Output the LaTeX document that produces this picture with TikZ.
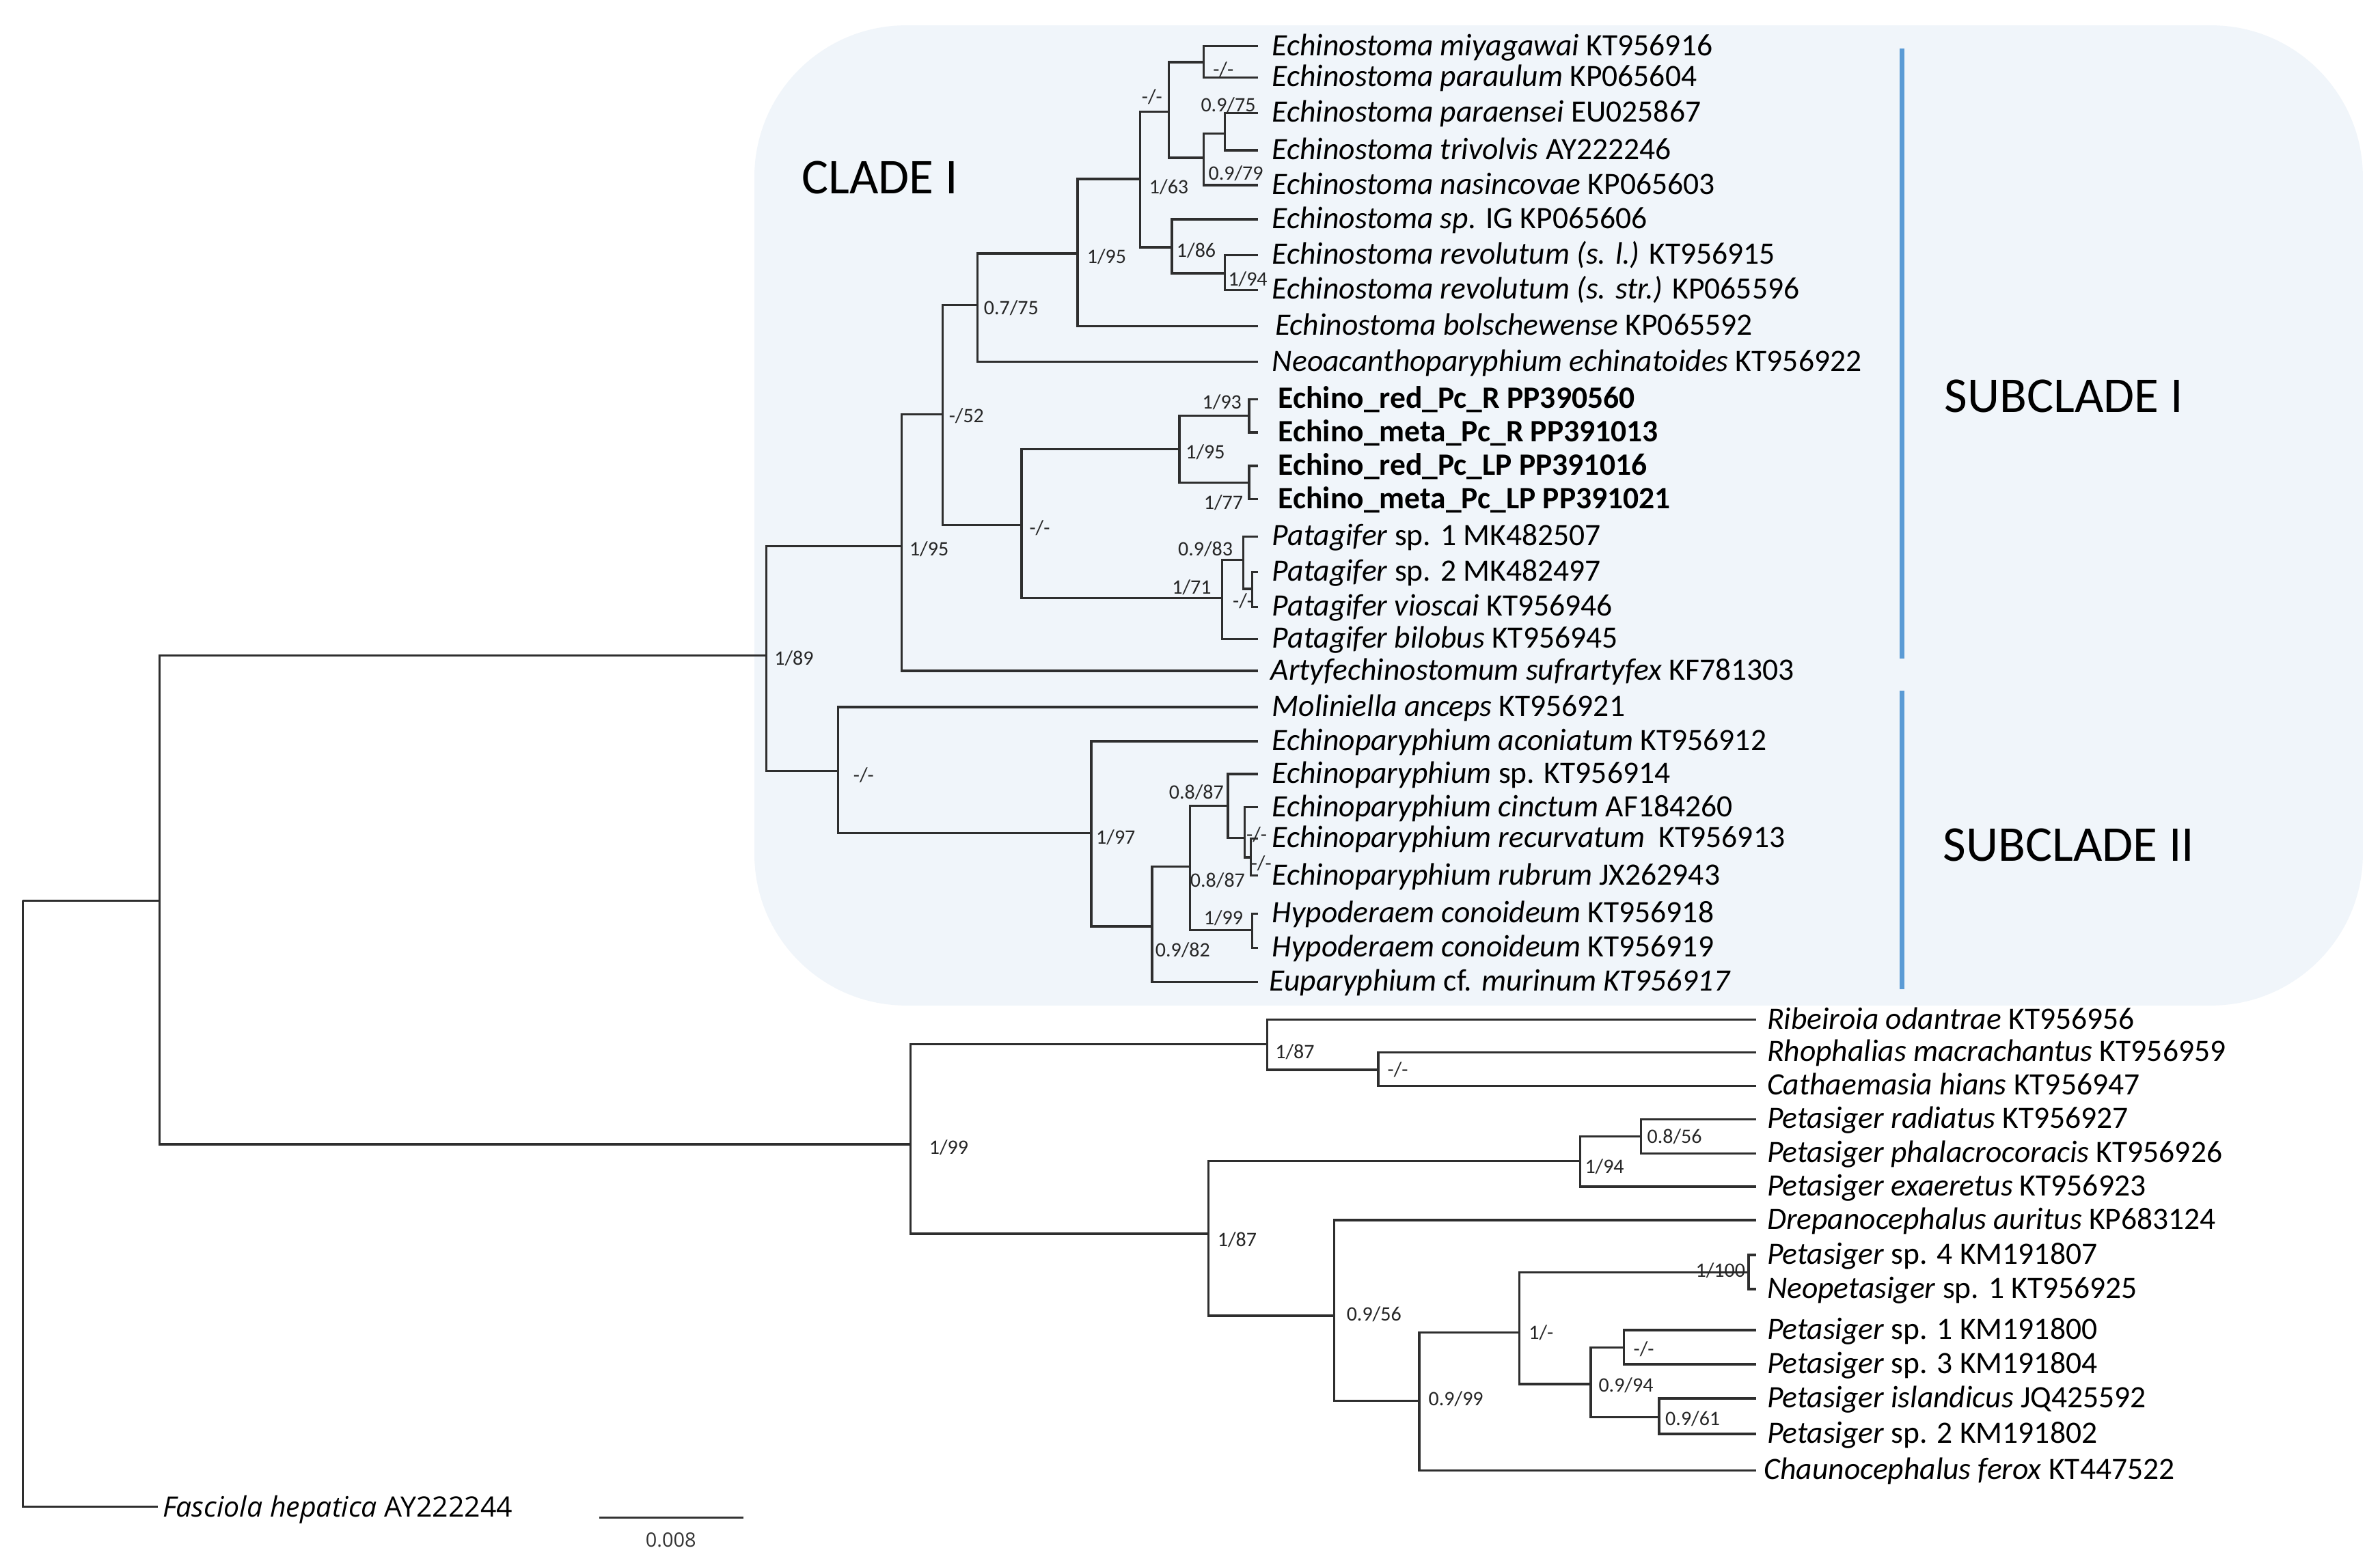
\documentclass[tikz,border=0pt]{standalone}
\usepackage{fontspec}
\setmainfont{Carlito}
\newfontfamily\osans{Open Sans}
\definecolor{subblue}{RGB}{91,155,213}
\definecolor{boxfill}{RGB}{240,245,250}
\newcommand\tipfont{\fontsize{20.5}{24}\selectfont}
\newcommand\supfont{\fontsize{13.5}{16}\selectfont}
\newcommand\bigfont{\fontsize{33}{38}\selectfont}
% name, x, y, label shift, text
\newcommand\tipx[5]{\coordinate (#1) at (#2,#3); \node[tiplab] (#1l) at ([xshift=#4pt]#1) {#5};}
\begin{document}
\begin{tikzpicture}[x=1pt,y=-1pt,
  br/.style={line width=1.5pt, draw=black!82},
  tiplab/.style={anchor=base west, inner sep=0pt, font=\tipfont, yshift=-6pt},
  supl/.style={anchor=west, inner sep=0pt, font=\supfont, text=black!85},
  cladetxt/.style={anchor=west, inner sep=0pt, font=\bigfont},
  subline/.style={line width=3.2pt, draw=subblue}]
\fill[white] (0,0) rectangle (1568,1028.6);
\useasboundingbox (0,0) rectangle (1568,1028.6);
% clade box
\fill[boxfill, rounded corners=100pt] (497,16.7) rectangle (1556.7,662.6);
% subclade bars
\coordinate (s1a) at (1253,32); \coordinate (s1b) at (1253,434);
\coordinate (s2a) at (1253,455); \coordinate (s2b) at (1253,652);
\draw[subline] (s1a) -- (s1b);
\draw[subline] (s2a) -- (s2b);
\node[cladetxt] (cl1) at (528,117) {CLADE I};
\node[cladetxt] (sc1) at (1281,261) {SUBCLADE I};
\node[cladetxt] (sc2) at (1280,557) {SUBCLADE II};

% ---------- tips: clade I ----------
\tipx{t1}{829}{30.5}{9}{\textit{Echinostoma miyagawai} KT956916}
\tipx{t2}{829}{51}{9}{\textit{Echinostoma paraulum} KP065604}
\tipx{t3}{829}{74.5}{9}{\textit{Echinostoma paraensei} EU025867}
\tipx{t4}{829}{99}{9}{\textit{Echinostoma trivolvis} AY222246}
\tipx{t5}{829}{122}{9}{\textit{Echinostoma nasincovae} KP065603}
\tipx{t6}{829}{144.5}{9}{\textit{Echinostoma sp.} IG KP065606}
\tipx{t7}{829}{168}{9}{\textit{Echinostoma revolutum (s. l.)} KT956915}
\tipx{t8}{829}{191}{9}{\textit{Echinostoma revolutum (s. str.)} KP065596}
\tipx{t9}{829}{215}{11}{\textit{Echinostoma bolschewense} KP065592}
\tipx{t10}{829}{238.5}{9}{\textit{Neoacanthoparyphium echinatoides} KT956922}
\tipx{t11}{829}{263}{13}{\textbf{Echino\_red\_Pc\_R PP390560}}
\tipx{t12}{829}{285}{13}{\textbf{Echino\_meta\_Pc\_R PP391013}}
\tipx{t13}{829}{307}{13}{\textbf{Echino\_red\_Pc\_LP PP391016}}
\tipx{t14}{829}{329}{13}{\textbf{Echino\_meta\_Pc\_LP PP391021}}
\tipx{t15}{829}{353.5}{9}{\textit{Patagifer} sp. 1 MK482507}
\tipx{t16}{829}{377}{9}{\textit{Patagifer} sp. 2 MK482497}
\tipx{t17}{829}{400}{9}{\textit{Patagifer vioscai} KT956946}
\tipx{t18}{829}{421}{9}{\textit{Patagifer bilobus} KT956945}
\tipx{t19}{829}{442}{8}{\textit{Artyfechinostomum sufrartyfex} KF781303}
\tipx{t20}{829}{466}{9}{\textit{Moliniella anceps} KT956921}
\tipx{t21}{829}{488.5}{9}{\textit{Echinoparyphium aconiatum} KT956912}
\tipx{t22}{829}{510}{9}{\textit{Echinoparyphium} sp. KT956914}
\tipx{t23}{829}{532}{9}{\textit{Echinoparyphium cinctum} AF184260}
\tipx{t24}{829}{552.5}{9}{\textit{Echinoparyphium recurvatum}\ \ KT956913}
\tipx{t25}{829}{577}{9}{\textit{Echinoparyphium rubrum} JX262943}
\tipx{t26}{829}{602}{9}{\textit{Hypoderaem conoideum} KT956918}
\tipx{t27}{829}{624.5}{9}{\textit{Hypoderaem conoideum} KT956919}
\tipx{t28}{829}{647}{7}{\textit{Euparyphium} cf. \textit{murinum KT956917}}
% ---------- tips: lower clade ----------
\tipx{b1}{1157}{672}{7}{\textit{Ribeiroia odantrae} KT956956}
\tipx{b2}{1157}{693.5}{7}{\textit{Rhophalias macrachantus} KT956959}
\tipx{b3}{1157}{715.5}{7}{\textit{Cathaemasia hians} KT956947}
\tipx{b4}{1157}{737.5}{7}{\textit{Petasiger radiatus} KT956927}
\tipx{b5}{1157}{760}{7}{\textit{Petasiger phalacrocoracis} KT956926}
\tipx{b6}{1157}{782}{7}{\textit{Petasiger exaeretus} KT956923}
\tipx{b7}{1157}{804}{7}{\textit{Drepanocephalus auritus} KP683124}
\tipx{b8}{1157}{827}{7}{\textit{Petasiger} sp. 4 KM191807}
\tipx{b9}{1157}{849.5}{7}{\textit{Neopetasiger} sp. 1 KT956925}
\tipx{b10}{1157}{876.5}{7}{\textit{Petasiger} sp. 1 KM191800}
\tipx{b11}{1157}{899}{7}{\textit{Petasiger} sp. 3 KM191804}
\tipx{b12}{1157}{921.5}{7}{\textit{Petasiger islandicus} JQ425592}
\tipx{b13}{1157}{945}{7}{\textit{Petasiger} sp. 2 KM191802}
\tipx{b14}{1157}{969}{5}{\textit{Chaunocephalus ferox} KT447522}
% outgroup
\coordinate (fas) at (104,993);
\node[anchor=base west, inner sep=0pt, font={\osans\fontsize{18.5}{22}\selectfont}, yshift=-6.5pt] (fasl) at ([xshift=3pt]fas) {\textit{Fasciola hepatica} AY222244};

% ---------- internal nodes ----------
\coordinate (R) at (15,593.5);
\coordinate (A) at (105,593.5);
\coordinate (C1) at (505,432);
\coordinate (C2) at (600,754);
\coordinate (Na) at (594,360);
\coordinate (N52) at (621,273);
\coordinate (N075) at (644,201);
\coordinate (N195b) at (710,167);
\coordinate (N163) at (751,118);
\coordinate (Nm2) at (770,73.5);
\coordinate (Nm3) at (793,41);
\coordinate (N0979) at (793,104);
\coordinate (N0975) at (807,88);
\coordinate (N186) at (772,163);
\coordinate (N194) at (807,180);
\coordinate (Nm1) at (673,346);
\coordinate (N195c) at (777,296);
\coordinate (N193) at (823,274);
\coordinate (N177) at (823,318);
\coordinate (N171) at (805,394);
\coordinate (N0983) at (819,369);
\coordinate (Nm4) at (825,388);
\coordinate (NM) at (552,508);
\coordinate (N197) at (719,549);
\coordinate (N0982) at (759,610.5);
\coordinate (N0887a) at (784,571);
\coordinate (N0887b) at (809,531);
\coordinate (Nm5) at (820,552);
\coordinate (Nm6) at (824,565);
\coordinate (N199) at (825,613);
\coordinate (N187a) at (835,688);
\coordinate (Nm7) at (908,705);
\coordinate (N187b) at (796,813);
\coordinate (N194b) at (1041,765);
\coordinate (N0856) at (1081,749);
\coordinate (N0956) at (879,867);
\coordinate (N0999) at (935,923);
\coordinate (N1m) at (1001,878);
\coordinate (N1100) at (1152,838.5);
\coordinate (N0994) at (1048,912);
\coordinate (Nm8) at (1070,888);
\coordinate (N0961) at (1093,934);

% ---------- branches ----------
\draw[br] (R) |- (A);  \draw[br] (R) |- (fas);
\draw[br] (A) |- (C1); \draw[br] (A) |- (C2);
\draw[br] (C1) |- (Na); \draw[br] (C1) |- (NM);
\draw[br] (Na) |- (N52); \draw[br] (Na) |- (t19);
\draw[br] (N52) |- (N075); \draw[br] (N52) |- (Nm1);
\draw[br] (N075) |- (N195b); \draw[br] (N075) |- (t10);
\draw[br] (N195b) |- (N163); \draw[br] (N195b) |- (t9);
\draw[br] (N163) |- (Nm2); \draw[br] (N163) |- (N186);
\draw[br] (Nm2) |- (Nm3); \draw[br] (Nm2) |- (N0979);
\draw[br] (Nm3) |- (t1); \draw[br] (Nm3) |- (t2);
\draw[br] (N0979) |- (N0975); \draw[br] (N0979) |- (t5);
\draw[br] (N0975) |- (t3); \draw[br] (N0975) |- (t4);
\draw[br] (N186) |- (t6); \draw[br] (N186) |- (N194);
\draw[br] (N194) |- (t7); \draw[br] (N194) |- (t8);
\draw[br] (Nm1) |- (N195c); \draw[br] (Nm1) |- (N171);
\draw[br] (N195c) |- (N193); \draw[br] (N195c) |- (N177);
\draw[br] (N193) |- (t11); \draw[br] (N193) |- (t12);
\draw[br] (N177) |- (t13); \draw[br] (N177) |- (t14);
\draw[br] (N171) |- (N0983); \draw[br] (N171) |- (t18);
\draw[br] (N0983) |- (t15); \draw[br] (N0983) |- (Nm4);
\draw[br] (Nm4) |- (t16); \draw[br] (Nm4) |- (t17);
\draw[br] (NM) |- (t20); \draw[br] (NM) |- (N197);
\draw[br] (N197) |- (t21); \draw[br] (N197) |- (N0982);
\draw[br] (N0982) |- (N0887a); \draw[br] (N0982) |- (t28);
\draw[br] (N0887a) |- (N0887b); \draw[br] (N0887a) |- (N199);
\draw[br] (N0887b) |- (t22); \draw[br] (N0887b) |- (Nm5);
\draw[br] (Nm5) |- (t23); \draw[br] (Nm5) |- (Nm6);
\draw[br] (Nm6) |- (t24); \draw[br] (Nm6) |- (t25);
\draw[br] (N199) |- (t26); \draw[br] (N199) |- (t27);
\draw[br] (C2) |- (N187a); \draw[br] (C2) |- (N187b);
\draw[br] (N187a) |- (b1); \draw[br] (N187a) |- (Nm7);
\draw[br] (Nm7) |- (b2); \draw[br] (Nm7) |- (b3);
\draw[br] (N187b) |- (N194b); \draw[br] (N187b) |- (N0956);
\draw[br] (N194b) |- (N0856); \draw[br] (N194b) |- (b6);
\draw[br] (N0856) |- (b4); \draw[br] (N0856) |- (b5);
\draw[br] (N0956) |- (b7); \draw[br] (N0956) |- (N0999);
\draw[br] (N0999) |- (N1m); \draw[br] (N0999) |- (b14);
\draw[br] (N1m) |- (N1100); \draw[br] (N1m) |- (N0994);
\draw[br] (N1100) |- (b8); \draw[br] (N1100) |- (b9);
\draw[br] (N0994) |- (Nm8); \draw[br] (N0994) |- (N0961);
\draw[br] (Nm8) |- (b10); \draw[br] (Nm8) |- (b11);
\draw[br] (N0961) |- (b12); \draw[br] (N0961) |- (b13);

% ---------- support values ----------
\node[supl] (sC1) at (510,434) {1/89};
\node[supl] (sNa) at (599,362) {1/95};
\node[supl] (sN52) at (625,274) {-/52};
\node[supl] (sN075) at (648,203) {0.7/75};
\node[supl] (sN195b) at (716,169) {1/95};
\node[supl] (sN163) at (757,123) {1/63};
\node[supl] (sNm2) at (752,64) {-/-};
\node[supl] (sNm3) at (799,46) {-/-};
\node[supl] (sN0975) at (791,69) {0.9/75};
\node[supl] (sN0979) at (796,114) {0.9/79};
\node[supl] (sN186) at (775,165) {1/86};
\node[supl] (sN194) at (809,184) {1/94};
\node[supl] (sNm1) at (678,348) {-/-};
\node[supl] (sN193) at (792,265) {1/93};
\node[supl] (sN195c) at (781,298) {1/95};
\node[supl] (sN177) at (793,331) {1/77};
\node[supl] (sN0983) at (776,362) {0.9/83};
\node[supl] (sN171) at (772,387) {1/71};
\node[supl] (sNm4) at (812,396) {-/-};
\node[supl] (sNM) at (562,511) {-/-};
\node[supl] (sN197) at (722,552) {1/97};
\node[supl] (sN0887b) at (770,522) {0.8/87};
\node[supl] (sNm5) at (821,550) {-/-};
\node[supl] (sNm6) at (824,569) {-/-};
\node[supl] (sN0887a) at (784,580) {0.8/87};
\node[supl] (sN199) at (793,605) {1/99};
\node[supl] (sN0982) at (761,626) {0.9/82};
\node[supl] (sC2) at (612,756) {1/99};
\node[supl] (sN187a) at (840,693) {1/87};
\node[supl] (sNm7) at (914,705) {-/-};
\node[supl] (sN0856) at (1085,749) {0.8/56};
\node[supl] (sN194b) at (1044,769) {1/94};
\node[supl] (sN187b) at (802,817) {1/87};
\node[supl] (sN0956) at (887,866) {0.9/56};
\node[supl] (sN1100) at (1117,837) {1/100};
\node[supl] (sN1m) at (1007,878) {1/-};
\node[supl] (sNm8) at (1076,889) {-/-};
\node[supl] (sN0994) at (1053,913) {0.9/94};
\node[supl] (sN0961) at (1097,935) {0.9/61};
\node[supl] (sN0999) at (941,922) {0.9/99};

% ---------- scale bar ----------
\coordinate (sbL) at (395,1000);
\coordinate (sbR) at (490,1000);
\draw[line width=1.1pt, black!80] (sbL) -- (sbR);
\node[inner sep=0pt, font={\osans\fontsize{13}{15}\selectfont}, text=black!80] (sbt) at (442,1015) {0.008};
\end{tikzpicture}
\end{document}
